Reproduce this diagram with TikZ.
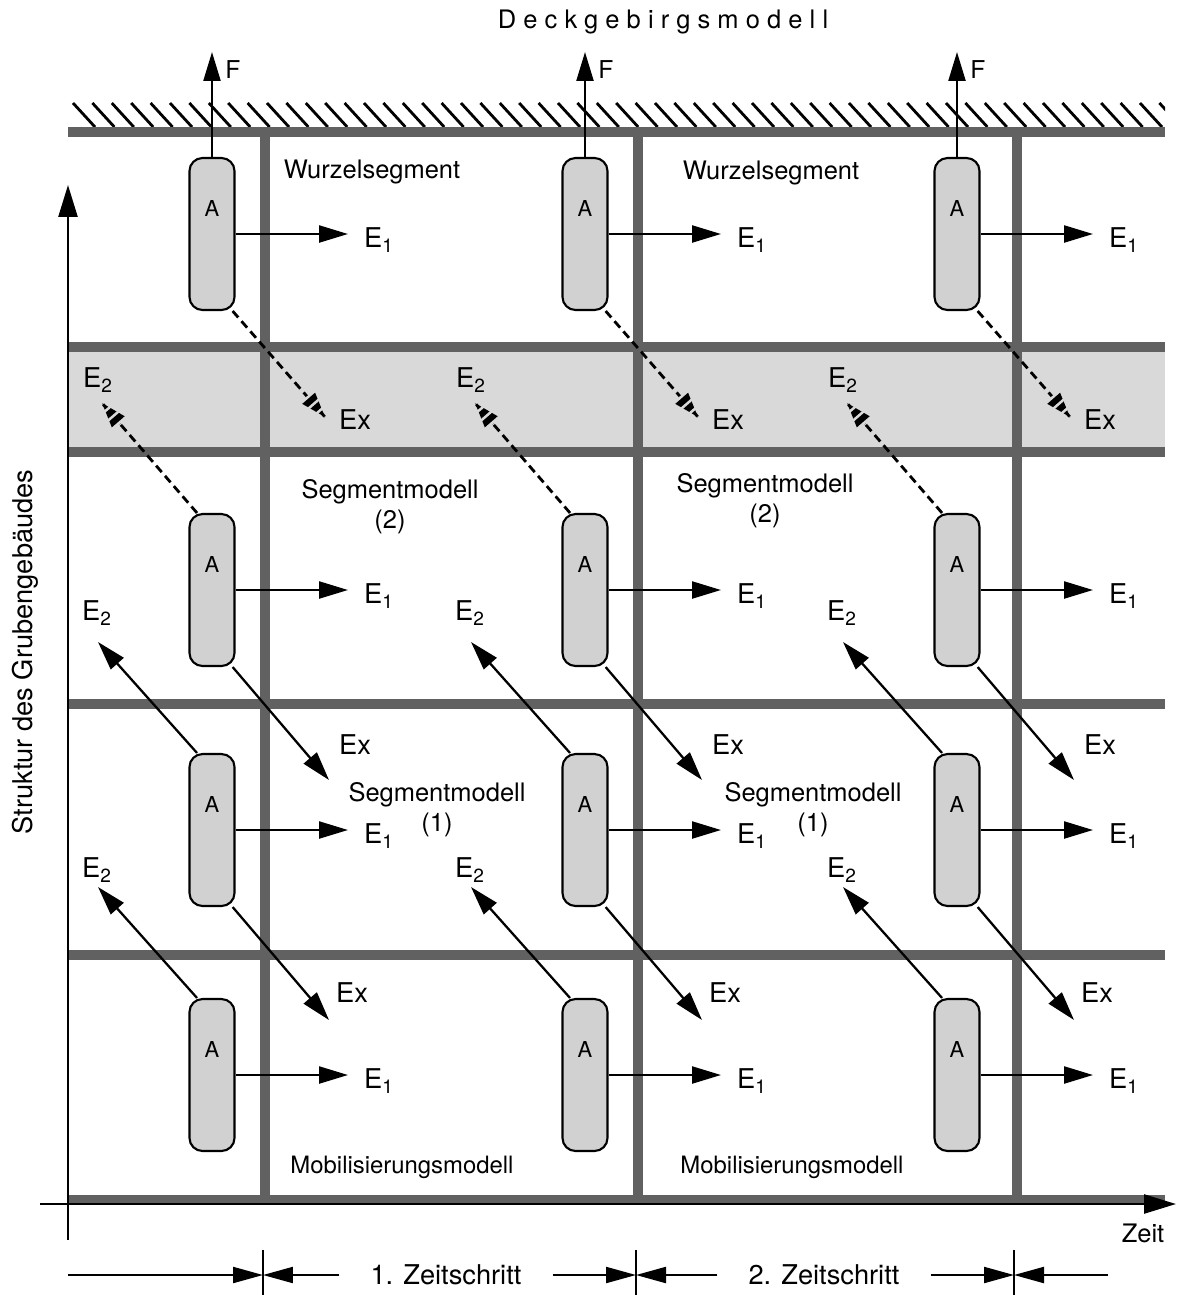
\documentclass[tikz,border=0pt]{standalone}
\usepackage{fontspec}
\setmainfont{TeX Gyre Heros}
\usetikzlibrary{positioning,arrows.meta,calc}

\definecolor{bargrey}{gray}{0.38}
\definecolor{bandgrey}{gray}{0.85}
\definecolor{capgrey}{gray}{0.82}

\tikzset{
  bar/.style={bargrey, line width=0.21cm},
  vbar/.style={bargrey, line width=0.19cm},
  capsule/.style={draw, line width=1.2pt, fill=capgrey, rounded corners=0.26cm,
    minimum width=0.9cm, minimum height=3.04cm, inner sep=0pt,
    label={[font=\fontsize{12.5}{14}\selectfont, anchor=north, yshift=-0.74cm]north:A}},
  arr/.style={line width=1.3pt, -{Triangle[length=0.58cm, width=0.34cm]}},
  darr/.style={line width=1.6pt, dash pattern=on 0.17cm off 0.1cm},
  dtip/.style={line width=1.6pt, -{Triangle[length=0.52cm, width=0.34cm]}},
  gap/.style={bandgrey, line width=0.42cm, dash pattern=on 0.05cm off 0.13cm},
  axis/.style={line width=1.4pt, -{Triangle[length=0.64cm, width=0.38cm]}},
  dim/.style={line width=1.2pt, -{Triangle[length=0.6cm, width=0.32cm]}},
  lab/.style={font=\fontsize{14.5}{17}\selectfont, align=center},
  elab/.style={font=\fontsize{15.5}{17}\selectfont},
  flab/.style={font=\fontsize{14}{15}\selectfont}
}

\begin{document}
\begin{tikzpicture}[x=0.02cm, y=-0.02cm]
  \useasboundingbox (0,0) rectangle (1178,1295);

  % Title
  \node[font=\fontsize{14.5}{16}\selectfont\addfontfeatures{LetterSpace=28}] (deck) at (663,22) {Deckgebirgsmodell};

  % Hatching of the roof
  \begin{scope}
    \clip (70,95) rectangle (1165,128);
    \foreach \h in {73,92.4,...,1170}
      \draw[line width=1.6pt] (\h,103) -- ++(22,24);
  \end{scope}

  % Grey band and grid
  \fill[bandgrey] (68,347) rectangle (1165,452);
  \foreach \yy in {132,347,452,704,955,1200}
    \draw[bar] (68,\yy) -- (1165,\yy);
  \foreach \xx in {265,638,1017}
    \draw[vbar] (\xx,132) -- (\xx,1200);

  % Axes
  \coordinate (o1) at (68,1240);
  \coordinate (yt) at (68,185);
  \draw[axis] (o1) -- (yt);
  \coordinate (o2) at (40,1204);
  \coordinate (xt) at (1176,1204);
  \draw[axis] (o2) -- (xt);
  \node[lab] (zeit) at (1143,1233) {Zeit};
  \node[lab, font=\fontsize{15.5}{17}\selectfont, rotate=90] (struktur) at (25,652) {Struktur des Grubengebäudes};

  % Model labels
  \node[lab] (wurzel1) at (372,172) {Wurzelsegment};
  \node[lab] (wurzel2) at (771,173) {Wurzelsegment};
  \node[lab] (segb1) at (390,507) {Segmentmodell\\(2)};
  \node[lab] (segb2) at (765,501) {Segmentmodell\\(2)};
  \node[lab] (sega1) at (437,810) {Segmentmodell\\(1)};
  \node[lab] (sega2) at (813,810) {Segmentmodell\\(1)};
  \node[lab, font=\fontsize{13.6}{16}\selectfont] (mob1) at (402,1167) {Mobilisierungsmodell};
  \node[lab, font=\fontsize{13.6}{16}\selectfont] (mob2) at (792,1167) {Mobilisierungsmodell};

  % Segments of each column
  \foreach \c/\x in {1/212,2/585,3/957} {
    \node[capsule] (a1\c) at (\x,234) {};
    \node[capsule] (a2\c) at (\x,590) {};
    \node[capsule] (a3\c) at (\x,830) {};
    \node[capsule] (a4\c) at (\x,1075) {};
    % force on the roof
    \coordinate (f\c) at (\x,52);
    \draw[arr] (a1\c.north) -- (f\c);
    \node[flab] (fl\c) at (\x+21,70) {F};
    % E1 arrows
    \foreach \r/\y in {1/234,2/590,3/830,4/1075} {
      \coordinate (e\r\c) at (\x+136,\y);
      \draw[arr] (a\r\c.east) -- (e\r\c);
      \node[elab] (el\r\c) at (\x+167,\y+6) {E\textsubscript{1}};
    }
    % Ex arrows (dashed ones with broken heads)
    \coordinate (x1\c) at (\x+113,417);
    \draw[darr] (a1\c.-75) -- (x1\c);
    \draw[dtip] ($(x1\c)!0.55cm!(a1\c.-75)$) -- (x1\c);
    \draw[gap] ($(x1\c)!0.55cm!(a1\c.-75)$) -- (x1\c);
    \node[elab] (xl1\c) at (\x+143,420) {Ex};
    \coordinate (x2\c) at (\x+117,780);
    \draw[arr] (a2\c.-75) -- (x2\c);
    \node[elab] (xl2\c) at (\x+143,745) {Ex};
    \coordinate (x3\c) at (\x+117,1020);
    \draw[arr] (a3\c.-75) -- (x3\c);
    \node[elab] (xl3\c) at (\x+140,993) {Ex};
    % E2 arrows
    \coordinate (y2\c) at (\x-110,403);
    \draw[darr] (a2\c.101) -- (y2\c);
    \draw[dtip] ($(y2\c)!0.55cm!(a2\c.101)$) -- (y2\c);
    \draw[gap] ($(y2\c)!0.55cm!(a2\c.101)$) -- (y2\c);
    \node[elab] (yl2\c) at (\x-114,380) {E\textsubscript{2}};
    \coordinate (y3\c) at (\x-114,642);
    \draw[arr] (a3\c.101) -- (y3\c);
    \node[elab] (yl3\c) at (\x-115,613) {E\textsubscript{2}};
    \coordinate (y4\c) at (\x-114,887);
    \draw[arr] (a4\c.101) -- (y4\c);
    \node[elab] (yl4\c) at (\x-115,870) {E\textsubscript{2}};
  }

  % Time steps
  \foreach \xx in {263,636,1014}
    \draw[line width=1pt] (\xx,1250) -- (\xx,1295);
  \coordinate (k1) at (263,1275);
  \coordinate (k2) at (636,1275);
  \coordinate (k3) at (1014,1275);
  \coordinate (d0) at (68,1275);
  \coordinate (d3) at (1108,1275);
  \node[font=\fontsize{15.5}{17}\selectfont] (z1) at (446,1275) {1. Zeitschritt};
  \node[font=\fontsize{15.5}{17}\selectfont] (z2) at (824,1275) {2. Zeitschritt};
  \draw[dim] (d0) -- (k1);
  \draw[dim] ([xshift=-0.5cm]z1.west) -- (k1);
  \draw[dim] ([xshift=0.5cm]z1.east) -- (k2);
  \draw[dim] ([xshift=-0.5cm]z2.west) -- (k2);
  \draw[dim] ([xshift=0.5cm]z2.east) -- (k3);
  \draw[dim] (d3) -- (k3);
\end{tikzpicture}
\end{document}
